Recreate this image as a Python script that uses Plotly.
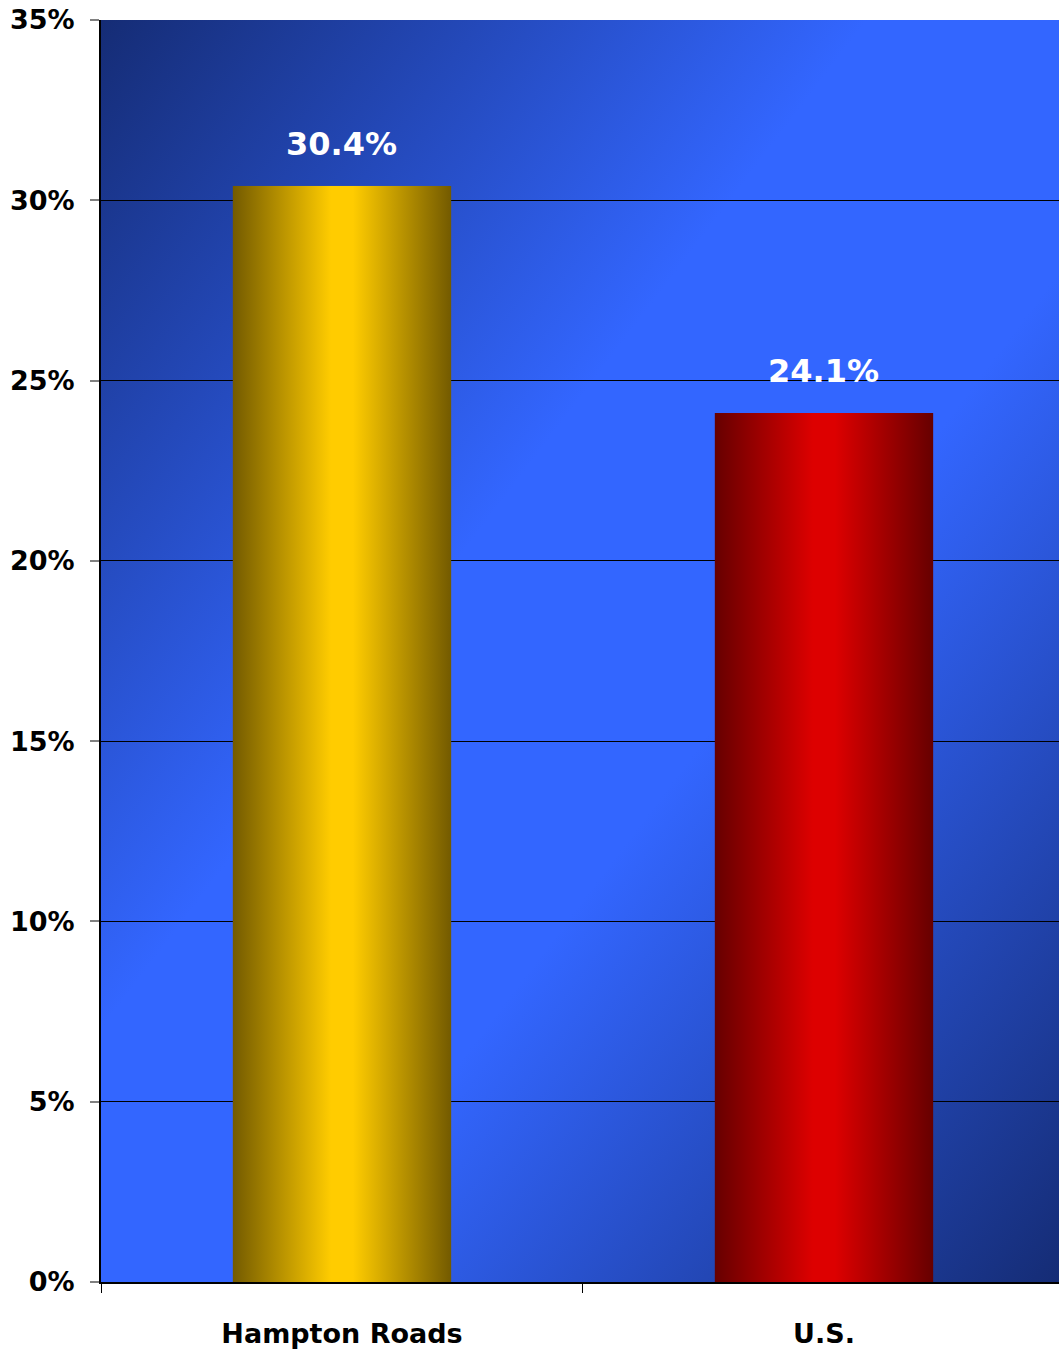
import base64
import plotly.graph_objects as go

# ---- data ----
categories = ["Hampton Roads", "U.S."]
values = [30.4, 24.1]
value_labels = ["30.4%", "24.1%"]
y_ticks = [0, 5, 10, 15, 20, 25, 30, 35]
y_tick_labels = ["0%", "5%", "10%", "15%", "20%", "25%", "30%", "35%"]

# ---- styles ----
bar_gradients = [
    ("#735a00", "#ffcc00", "#735a00"),
    ("#660000", "#dd0000", "#660000"),
]
bar_mid = ["#ffcc00", "#dd0000"]
BAR_W = 0.454
FONT = "DejaVu Sans"


def svg_uri(svg):
    return "data:image/svg+xml;base64," + base64.b64encode(svg.encode()).decode()


def hgrad(c0, c1, c2):
    svg = (
        '<svg xmlns="http://www.w3.org/2000/svg" width="100" height="100" '
        'viewBox="0 0 100 100" preserveAspectRatio="none">'
        '<defs><linearGradient id="g" x1="0" y1="0" x2="1" y2="0">'
        f'<stop offset="0" stop-color="{c0}"/>'
        f'<stop offset="0.45" stop-color="{c1}"/>'
        f'<stop offset="0.55" stop-color="{c1}"/>'
        f'<stop offset="1" stop-color="{c2}"/>'
        '</linearGradient></defs>'
        '<rect x="0" y="0" width="100" height="100" fill="url(#g)"/></svg>'
    )
    return svg_uri(svg)


bg_svg = (
    '<svg xmlns="http://www.w3.org/2000/svg" width="100" height="100" '
    'viewBox="0 0 100 100" preserveAspectRatio="none">'
    '<defs><linearGradient id="b" x1="0" y1="0" x2="1" y2="1">'
    '<stop offset="0" stop-color="#152c75"/>'
    '<stop offset="0.4" stop-color="#3366ff"/>'
    '<stop offset="0.6" stop-color="#3366ff"/>'
    '<stop offset="1" stop-color="#152c75"/>'
    '</linearGradient></defs>'
    '<rect x="0" y="0" width="100" height="100" fill="url(#b)"/></svg>'
)

xpos = list(range(len(categories)))

fig = go.Figure()
fig.add_trace(go.Bar(
    x=xpos, y=values, width=BAR_W,
    marker=dict(color=bar_mid, line=dict(width=0)),
    hoverinfo="skip",
))

images = [dict(
    source=svg_uri(bg_svg), xref="paper", yref="paper", x=0, y=1,
    sizex=1, sizey=1, xanchor="left", yanchor="top",
    sizing="stretch", layer="below",
)]
for i, v in enumerate(values):
    images.append(dict(
        source=hgrad(*bar_gradients[i]), xref="x", yref="y",
        x=xpos[i] - BAR_W / 2, y=v, sizex=BAR_W, sizey=v,
        xanchor="left", yanchor="top", sizing="stretch", layer="above",
    ))

annotations = []
for i, v in enumerate(values):
    annotations.append(dict(
        x=xpos[i], y=v, xref="x", yref="y", text=value_labels[i],
        showarrow=False, yanchor="bottom", yshift=21,
        font=dict(family=FONT, size=32, color="white", weight="bold"),
    ))

fig.update_layout(
    width=1059, height=1351,
    margin=dict(l=101, r=0, t=20, b=69),
    paper_bgcolor="white",
    plot_bgcolor="rgba(0,0,0,0)",
    showlegend=False,
    images=images,
    annotations=annotations,
    bargap=0,
)
fig.update_xaxes(
    range=[-0.5, 1.4876],
    tickvals=xpos, ticktext=categories, ticks="",
    tickfont=dict(family=FONT, size=27, color="black", weight="bold"),
    ticklabelstandoff=27,
    showgrid=False, zeroline=False,
    showline=True, linecolor="black", linewidth=2,
    minor=dict(tickvals=[-0.5, 0.5, 1.5], ticks="outside", ticklen=9,
               tickcolor="black", tickwidth=1, showgrid=False),
)
fig.update_yaxes(
    range=[0, 35], tickvals=y_ticks, ticktext=y_tick_labels,
    ticks="outside", ticklen=9, tickcolor="#808080", tickwidth=2,
    tickfont=dict(family=FONT, size=27, color="black", weight="bold"),
    ticklabelstandoff=10,
    showgrid=True, gridcolor="black", gridwidth=1,
    zeroline=False, showline=True, linecolor="black", linewidth=2,
)

fig.write_html(
    "out.html",
    config={"displayModeBar": False},
    post_script="document.body.style.margin='0';document.body.style.overflow='hidden';",
)
